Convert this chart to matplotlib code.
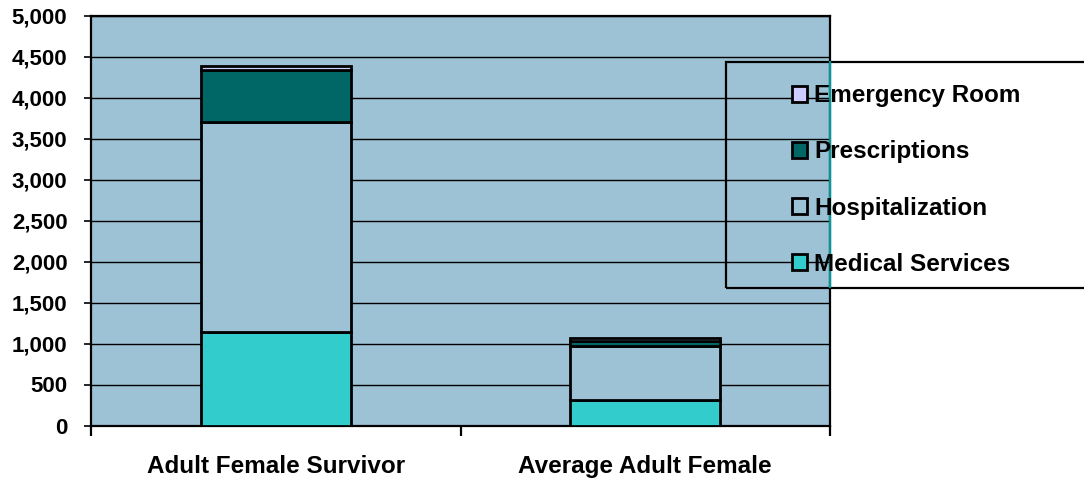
import numpy as np
import matplotlib
matplotlib.use('Agg')
from matplotlib import pyplot as plt
from matplotlib.patches import Rectangle
from matplotlib.lines import Line2D

plt.rcParams['font.family'] = ['Liberation Sans', 'DejaVu Sans']
plt.rcParams['font.weight'] = 'bold'

categories = ['Adult Female Survivor', 'Average Adult Female']
medical = [1140, 310]
hospital = [2560, 660]
prescriptions = [635, 65]
emergency = [50, 30]
yticks = [0, 500, 1000, 1500, 2000, 2500, 3000, 3500, 4000, 4500, 5000]

bg = '#9DC2D6'

fig = plt.figure(figsize=(10.84, 4.79), dpi=100)
ax = fig.add_axes([91/1084, 1 - 425.5/479, (830-91)/1084, 410/479])
ax.set_facecolor(bg)

x = np.arange(len(categories))
w = 0.406
b1 = np.array(medical)
b2 = b1 + np.array(hospital)
b3 = b2 + np.array(prescriptions)
lw = 2.0
ax.bar(x, medical, w, color='#33CCCC', edgecolor='black', linewidth=lw, label='Medical Services', zorder=3)
ax.bar(x, hospital, w, bottom=b1, color=bg, edgecolor='black', linewidth=lw, label='Hospitalization', zorder=3)
ax.bar(x, prescriptions, w, bottom=b2, color='#006666', edgecolor='black', linewidth=lw, label='Prescriptions', zorder=3)
ax.bar(x, emergency, w, bottom=b3, color='#CCCCFF', edgecolor='black', linewidth=lw, label='Emergency Room', zorder=3)

ax.set_xlim(-0.5, 1.5)
ax.set_ylim(0, 5000)
ax.set_yticks(yticks)
ax.set_yticklabels(['{:,}'.format(v) for v in yticks], fontsize=16, fontweight='bold')
ax.yaxis.grid(True, color='black', linewidth=1.0, zorder=1)
ax.set_axisbelow(True)
ax.tick_params(axis='y', direction='out', length=5, width=1.2, pad=12)

ax.set_xticks(x)
ax.set_xticklabels(categories, fontsize=17.5, fontweight='bold')
ax.set_xticks([-0.5, 0.5, 1.5], minor=True)
ax.tick_params(axis='x', which='major', length=0, pad=21.5)
ax.tick_params(axis='x', which='minor', direction='out', length=7, width=1.6)
for s in ax.spines.values():
    s.set_linewidth(1.6)
    s.set_color('black')

# legend box, running past the right edge
fig.patches.append(Rectangle((726/1084, 1 - 287.5/479), 380/1084, 225.5/479,
                             transform=fig.transFigure, facecolor='none',
                             edgecolor='black', linewidth=1.6, clip_on=False))
fig.lines.append(Line2D([830/1084, 830/1084], [1 - 287/479, 1 - 62/479],
                        transform=fig.transFigure, color='#009999', linewidth=1.6))

h, l = ax.get_legend_handles_labels()
fig.legend(h[::-1], l[::-1], loc='center left', bbox_to_anchor=(792/1084, 1 - 180/479),
           frameon=False, prop={'size': 17.5, 'weight': 'bold'},
           handlelength=0.6, handleheight=0.6, handletextpad=0.3,
           labelspacing=1.36, borderpad=0, borderaxespad=0)

fig.savefig('out.png', dpi=100)
